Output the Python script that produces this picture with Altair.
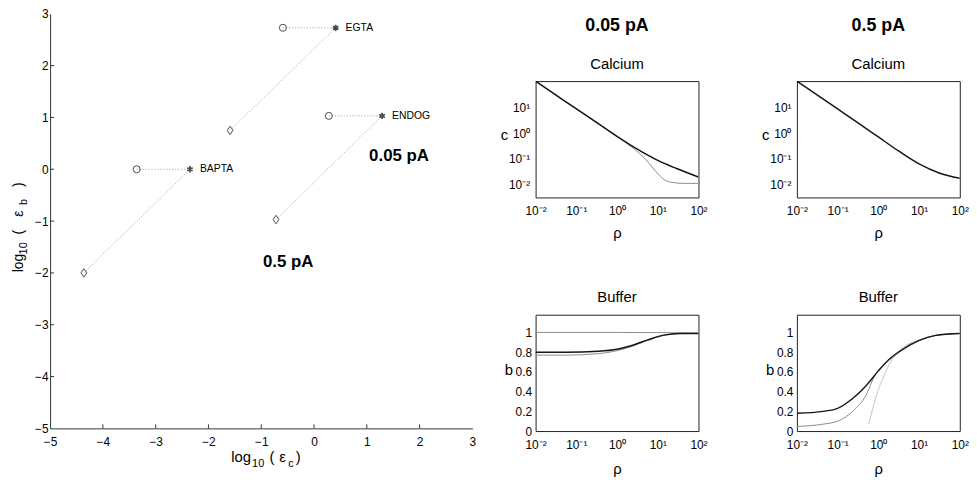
import altair as alt
import pandas as pd

FONT = "Liberation Sans"

# ---------------- data: left panel ----------------
buffers = ["BAPTA", "EGTA", "ENDOG"]
circle_x = [-3.36, -0.59, 0.28]
circle_y = [0.0, 2.73, 1.03]
star_x = [-2.35, 0.41, 1.29]
star_y = [0.0, 2.73, 1.03]
diamond_x = [-4.36, -1.59, -0.72]
diamond_y = [-2.0, 0.75, -0.97]
current_labels = ["0.05 pA", "0.5 pA"]
current_x = [1.61, -0.49]
current_y = [0.15, -1.88]
left_ticks = [-5, -4, -3, -2, -1, 0, 1, 2, 3]

# ---------------- data: right panels ----------------
rho_ticks = [0.01, 0.1, 1, 10, 100]
c_ticks = [0.01, 0.1, 1, 10]
b_ticks = [0, 0.2, 0.4, 0.6, 0.8, 1]

# Calcium, 0.05 pA
rho_c1 = [0.01, 0.051, 0.13, 0.34, 1.0, 2.2, 4.6, 10, 30, 100]
c1_black = [110, 18.6, 6.8, 2.4, 0.74, 0.33, 0.166, 0.085, 0.040, 0.019]
rho_c1g = [0.01, 0.051, 0.13, 0.34, 1.0, 2.2, 3.8, 6.0, 8.9, 12.9, 20.4, 42.7, 100]
c1_gray = [110, 18.6, 6.8, 2.4, 0.74, 0.30, 0.145, 0.068, 0.032, 0.017, 0.012, 0.0107, 0.0107]

# Calcium, 0.5 pA
rho_c2 = [0.01, 0.1, 0.28, 1.0, 3.2, 10, 31, 100]
c2_black = [110, 8.9, 2.9, 0.71, 0.195, 0.062, 0.0275, 0.017]

# Buffer, 0.05 pA
rho_b1 = [0.01, 0.055, 0.35, 1.0, 2.2, 5.7, 14, 36, 100]
b1_black = [0.80, 0.80, 0.81, 0.83, 0.865, 0.925, 0.973, 0.99, 0.99]
b1_gray = [0.77, 0.77, 0.785, 0.815, 0.855, 0.92, 0.97, 0.99, 0.99]
rho_b1t = [0.01, 1.0, 100]
b1_top = [1.0, 1.0, 0.995]

# Buffer, 0.5 pA
rho_b2 = [0.01, 0.044, 0.1, 0.234, 0.5, 1.0, 1.87, 3.96, 10, 25.7, 100]
b2_black = [0.18, 0.20, 0.23, 0.33, 0.46, 0.61, 0.73, 0.83, 0.92, 0.97, 0.99]
rho_b2g = [0.01, 0.044, 0.1, 0.234, 0.5, 0.79, 1.87, 3.96, 10, 25.7, 100]
b2_gray = [0.047, 0.07, 0.10, 0.20, 0.365, 0.55, 0.72, 0.82, 0.915, 0.97, 0.99]
rho_b2l = [0.58, 0.73, 0.96, 1.28, 1.87, 2.7, 4.8, 10, 25.7, 100]
b2_light = [0.07, 0.23, 0.40, 0.53, 0.68, 0.78, 0.87, 0.92, 0.97, 0.99]

# ---------------- helpers ----------------
ONE = pd.DataFrame({"k": [0]})


def txt(s, x, y, size, angle=0, weight="normal", align="left", baseline="alphabetic"):
    return alt.Chart(ONE).mark_text(
        text=s, fontSize=size, angle=angle, align=align, baseline=baseline,
        color="black", font=FONT, fontWeight=weight
    ).encode(x=alt.value(x), y=alt.value(y))


# ---------------- left chart ----------------
LW, LH = 426.5, 418.7
xs_l = alt.Scale(domain=[-5, 3], nice=False)
ys_l = alt.Scale(domain=[-5, 3], nice=False)
ax_x = alt.Axis(values=left_ticks, title="", ticks=False, labelFlush=False, labelPadding=8,
                labelFontSize=12, format="d", domainColor="#333", labelColor="black")
ax_y = alt.Axis(values=left_ticks, title="", ticks=False, labelFlush=False, labelPadding=2,
                labelFontSize=12, format="d", domainColor="#333", labelColor="black")

seg_rows = []
for i, n in enumerate(buffers):
    seg_rows += [
        {"seg": n + "_h", "o": 0, "x": circle_x[i], "y": circle_y[i]},
        {"seg": n + "_h", "o": 1, "x": star_x[i], "y": star_y[i]},
        {"seg": n + "_d", "o": 0, "x": diamond_x[i], "y": diamond_y[i]},
        {"seg": n + "_d", "o": 1, "x": star_x[i], "y": star_y[i]},
    ]
seg_df = pd.DataFrame(seg_rows)
circ_df = pd.DataFrame({"x": circle_x, "y": circle_y})
star_df = pd.DataFrame({"x": star_x, "y": star_y, "name": buffers})
diam_df = pd.DataFrame({"x": diamond_x, "y": diamond_y})
cur_df = pd.DataFrame({"x": current_x, "y": current_y, "t": current_labels})
tick_df = pd.DataFrame({"v": left_ticks[1:-1]})

X = lambda: alt.X("x:Q", scale=xs_l, axis=ax_x)
Y = lambda: alt.Y("y:Q", scale=ys_l, axis=ax_y)

dotted = alt.Chart(seg_df).mark_line(strokeDash=[1, 2], color="#9a9a9a", strokeWidth=1).encode(
    x=X(), y=Y(), detail="seg:N", order="o:Q")
circles = alt.Chart(circ_df).mark_point(shape="circle", filled=False, color="black",
                                        size=50, strokeWidth=1).encode(x=X(), y=Y())
diamonds = alt.Chart(diam_df).mark_point(shape="M0,-1L0.7,0L0,1L-0.7,0Z", filled=False,
                                         color="black", size=72, strokeWidth=1).encode(x=X(), y=Y())
stars = alt.Chart(star_df).mark_point(
    shape="M0,-1L0,1M-0.87,-0.5L0.87,0.5M-0.87,0.5L0.87,-0.5", filled=False,
    color="black", size=40, strokeWidth=1.7).encode(x=X(), y=Y())
names = alt.Chart(star_df).mark_text(align="left", dx=10, fontSize=10.5, baseline="middle",
                                     color="black", font=FONT).encode(x=X(), y=Y(), text="name:N")
currents = alt.Chart(cur_df).mark_text(align="center", baseline="alphabetic", fontSize=17,
                                       fontWeight="bold", color="black", font=FONT).encode(
    x=X(), y=Y(), text="t:N")
xticks = alt.Chart(tick_df).mark_rule(color="#333", strokeWidth=1).encode(
    x=alt.X("v:Q", scale=xs_l, axis=ax_x), y=alt.value(LH), y2=alt.value(LH - 4))
yticks = alt.Chart(tick_df).mark_rule(color="#333", strokeWidth=1).encode(
    y=alt.Y("v:Q", scale=ys_l, axis=ax_y), x=alt.value(0), x2=alt.value(4))

# x title: log10 ( eps_c )
xb = 453
x_title = [
    txt("log", 183, xb, 15),
    txt("10", 204, xb + 5, 11),
    txt("(", 221.5, xb, 15),
    txt("ε", 231.5, xb, 15),
    txt("c", 240.5, xb + 5, 11),
    txt(")", 248, xb, 15),
]
# y title: log10 ( eps_b ), rotated
y_title = [
    txt("log", -27.5, 261, 14, angle=270),
    txt("10", -23.5, 243, 11, angle=270),
    txt("(", -27, 223, 14, angle=270),
    txt("ε", -27, 205, 14, angle=270),
    txt("b", -23.5, 193, 11, angle=270),
    txt(")", -27, 175, 14, angle=270),
]

left = alt.layer(dotted, circles, diamonds, stars, names, currents, xticks, yticks,
                 *x_title, *y_title).properties(
    width=LW, height=LH, view=alt.ViewBackground(stroke="transparent"))

# ---------------- small panels ----------------
PW, PH = 164.5, 117.5
SUP = ("datum.value < 0.05 ? '10⁻²' : datum.value < 0.5 ? '10⁻¹' : "
       "datum.value < 5 ? '10⁰' : datum.value < 50 ? '10¹' : '10²'")


def panel(lines, kind, title, ylab, ylab_x, rho_y, xpad, header=None):
    xs = alt.Scale(type="log", domain=[0.01, 100], nice=False)
    xaxis = alt.Axis(values=rho_ticks, labelExpr=SUP, title="ρ", titleFontSize=15,
                     titleFontWeight="normal", titleX=PW / 2, titleY=rho_y,
                     titleBaseline="alphabetic", titleAlign="center", ticks=False,
                     domain=False, labelPadding=xpad, labelFontSize=12, labelFlush=False,
                     labelColor="black")
    if kind == "c":
        ys = alt.Scale(type="log", domain=[0.003, 110], nice=False)
        yaxis = alt.Axis(values=c_ticks, labelExpr=SUP, title=ylab, titleFontSize=15,
                         titleFontWeight="normal", titleAngle=0, titleX=ylab_x, titleY=59,
                         titleAlign="center", titleBaseline="alphabetic", ticks=False,
                         domain=False, labelPadding=6, labelFontSize=12, labelColor="black")
    else:
        ys = alt.Scale(type="linear", domain=[0, 1.18], nice=False)
        yaxis = alt.Axis(values=b_ticks, format="~g", title=ylab, titleFontSize=15,
                         titleFontWeight="normal", titleAngle=0, titleX=ylab_x, titleY=60,
                         titleAlign="center", titleBaseline="alphabetic", ticks=False,
                         domain=False, labelPadding=4, labelFontSize=12, labelColor="black",
                         labelFlush=False)
    layers = []
    for rho, vals, color, width in lines:
        df = pd.DataFrame({"rho": rho, "v": vals})
        layers.append(
            alt.Chart(df).mark_line(color=color, strokeWidth=width, interpolate="monotone",
                                    clip=True).encode(
                x=alt.X("rho:Q", scale=xs, axis=xaxis),
                y=alt.Y("v:Q", scale=ys, axis=yaxis)))
    layers.append(txt(title, PW / 2, -12.5, 15, align="center"))
    if header:
        layers.append(txt(header, PW / 2, -51, 18, weight="bold", align="center"))
    return alt.layer(*layers).properties(width=PW, height=PH)


BLACK, GRAY, LIGHT = "#151515", "#8c8c8c", "#c4c4c4"

c1 = panel([(rho_c1g, c1_gray, GRAY, 1.0), (rho_c1, c1_black, BLACK, 1.5)],
           "c", "Calcium", "c", -32, 40, 8, header="0.05 pA")
c2 = panel([(rho_c2, c2_black, BLACK, 1.5)], "c", "Calcium", "c", -32, 40, 8,
           header="0.5 pA")
b1 = panel([(rho_b1t, b1_top, GRAY, 1.0), (rho_b1, b1_gray, GRAY, 1.0),
            (rho_b1, b1_black, BLACK, 1.5)], "b", "Buffer", "b", -27.5, 43, 9)
b2 = panel([(rho_b2l, b2_light, LIGHT, 1.0), (rho_b2g, b2_gray, GRAY, 1.0),
            (rho_b2, b2_black, BLACK, 1.4)], "b", "Buffer", "b", -27.5, 43, 9)

grid = alt.concat(c1, c2, b1, b2, columns=2, spacing={"row": 117.9, "column": 98.9},
                  bounds="flush")

spacer = alt.Chart(ONE).mark_point(opacity=0).encode(
    x=alt.value(0), y=alt.value(0)).properties(
    width=1, height=1, view=alt.ViewBackground(stroke="transparent"))

right = alt.vconcat(spacer, grid, spacing=67, bounds="flush")

chart = alt.hconcat(left, right, spacing=63.3, bounds="flush").properties(
    padding={"left": 3.5, "top": -3.5, "right": 0, "bottom": 0}
).configure(font=FONT).configure_view(stroke="#222", strokeWidth=1).configure_axis(
    grid=False, labelFont=FONT, titleFont=FONT, titleColor="black")

chart.save("out.html", embed_options={"renderer": "svg", "actions": False})
